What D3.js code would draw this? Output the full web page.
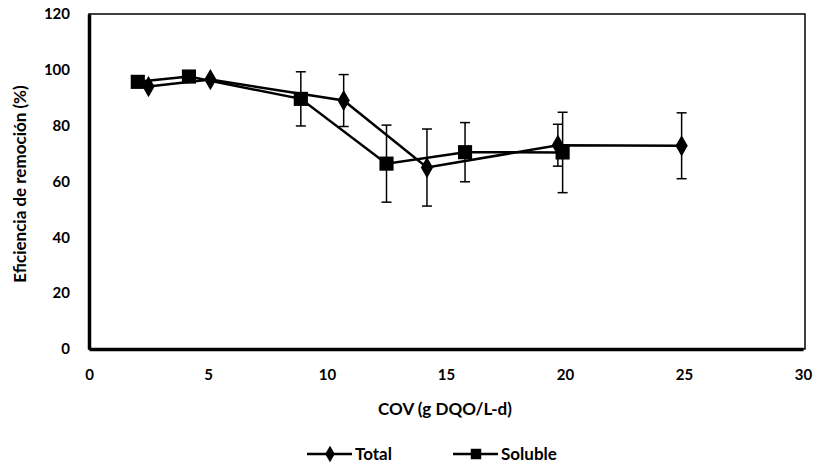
<!DOCTYPE html>
<html>
<head>
<meta charset="utf-8">
<script src="https://cdn.jsdelivr.net/npm/d3@7"></script>
<style>
  body { margin: 0; background: #fff; }
  text { font-family: Lato, "Open Sans", sans-serif; font-weight: bold; fill: #000; }
</style>
</head>
<body>
<script>
// data
const totalX = [2.5, 5.1, 10.7, 14.2, 19.7, 24.9];
const totalY = [94, 96.5, 89, 65, 73, 72.8];
const totalErr = [0, 0, 9.3, 13.8, 7.5, 11.8];

const solubleX = [2.05, 4.2, 8.9, 12.5, 15.8, 19.9];
const solubleY = [95.7, 97.6, 89.6, 66.4, 70.5, 70.4];
const solubleErr = [0, 0, 9.7, 13.8, 10.6, 14.4];

const xTicks = [0, 5, 10, 15, 20, 25, 30];
const yTicks = [0, 20, 40, 60, 80, 100, 120];

const W = 814, H = 464;
const mLeft = 89, mRight = 803, mTop = 14, mBottom = 349;

const svg = d3.select("body").append("svg")
    .attr("width", W)
    .attr("height", H);

const x = d3.scaleLinear().domain([0, 30]).range([mLeft, mRight]);
const y = d3.scaleLinear().domain([0, 120]).range([mBottom, mTop]);

// frame
svg.append("rect")
    .attr("x", mLeft).attr("y", mTop)
    .attr("width", 805 - mLeft).attr("height", mBottom - mTop)
    .attr("fill", "none").attr("stroke", "#000").attr("stroke-width", 1.5);

const xAxis = svg.append("g")
    .attr("transform", "translate(0," + mBottom + ")")
    .call(d3.axisBottom(x).tickValues(xTicks).tickSize(0).tickPadding(20));
xAxis.select(".domain").attr("stroke-width", 3.5);
xAxis.selectAll("text").style("font-size", "15px").style("font-family", "Lato, sans-serif");

const yAxis = svg.append("g")
    .attr("transform", "translate(" + mLeft + ",0)")
    .call(d3.axisLeft(y).tickValues(yTicks).tickSize(0).tickPadding(19));
yAxis.select(".domain").attr("stroke-width", 3.5);
yAxis.selectAll("text").style("font-size", "15px").style("font-family", "Lato, sans-serif");

svg.append("text")
    .attr("x", 445).attr("y", 415)
    .attr("text-anchor", "middle")
    .style("font-size", "17px")
    .text("COV (g DQO/L-d)");

svg.append("text")
    .attr("transform", "translate(26,184) rotate(-90)")
    .attr("text-anchor", "middle")
    .style("font-size", "17px")
    .text("Eficiencia de remoción (%)");

const line = d3.line().x(d => x(d[0])).y(d => y(d[1]));

function drawSeries(xs, ys, errs, shape, size) {
    const pts = xs.map((v, i) => [v, ys[i], errs[i]]);
    const g = svg.append("g");
    pts.filter(d => d[2] > 0).forEach(d => {
        g.append("line")
            .attr("x1", x(d[0])).attr("x2", x(d[0]))
            .attr("y1", y(d[1] - d[2])).attr("y2", y(d[1] + d[2]))
            .attr("stroke", "#000").attr("stroke-width", 1.5);
        [d[1] - d[2], d[1] + d[2]].forEach(v => {
            g.append("line")
                .attr("x1", x(d[0]) - 5).attr("x2", x(d[0]) + 5)
                .attr("y1", y(v)).attr("y2", y(v))
                .attr("stroke", "#000").attr("stroke-width", 1.5);
        });
    });
    g.append("path")
        .datum(pts)
        .attr("d", line)
        .attr("fill", "none")
        .attr("stroke", "#000")
        .attr("stroke-width", 2.5);
    g.selectAll("path.m")
        .data(pts)
        .enter()
        .append("path")
        .attr("class", "m")
        .attr("transform", d => "translate(" + x(d[0]) + "," + y(d[1]) + ")")
        .attr("d", d3.symbol().type(shape).size(size))
        .attr("fill", "#000");
}

drawSeries(totalX, totalY, totalErr, d3.symbolDiamond, 130);
drawSeries(solubleX, solubleY, solubleErr, d3.symbolSquare, 200);

// legend
const legend = svg.append("g");
const items = [
    { name: "Total", shape: d3.symbolDiamond, size: 80, x0: 307 },
    { name: "Soluble", shape: d3.symbolSquare, size: 110, x0: 453 }
];
items.forEach(it => {
    legend.append("line")
        .attr("x1", it.x0).attr("x2", it.x0 + 45)
        .attr("y1", 454).attr("y2", 454)
        .attr("stroke", "#000").attr("stroke-width", 2.5);
    legend.append("path")
        .attr("transform", "translate(" + (it.x0 + 23) + ",454)")
        .attr("d", d3.symbol().type(it.shape).size(it.size))
        .attr("fill", "#000");
    legend.append("text")
        .attr("x", it.x0 + 48).attr("y", 460)
        .style("font-size", "17px")
        .text(it.name);
});
</script>
</body>
</html>
